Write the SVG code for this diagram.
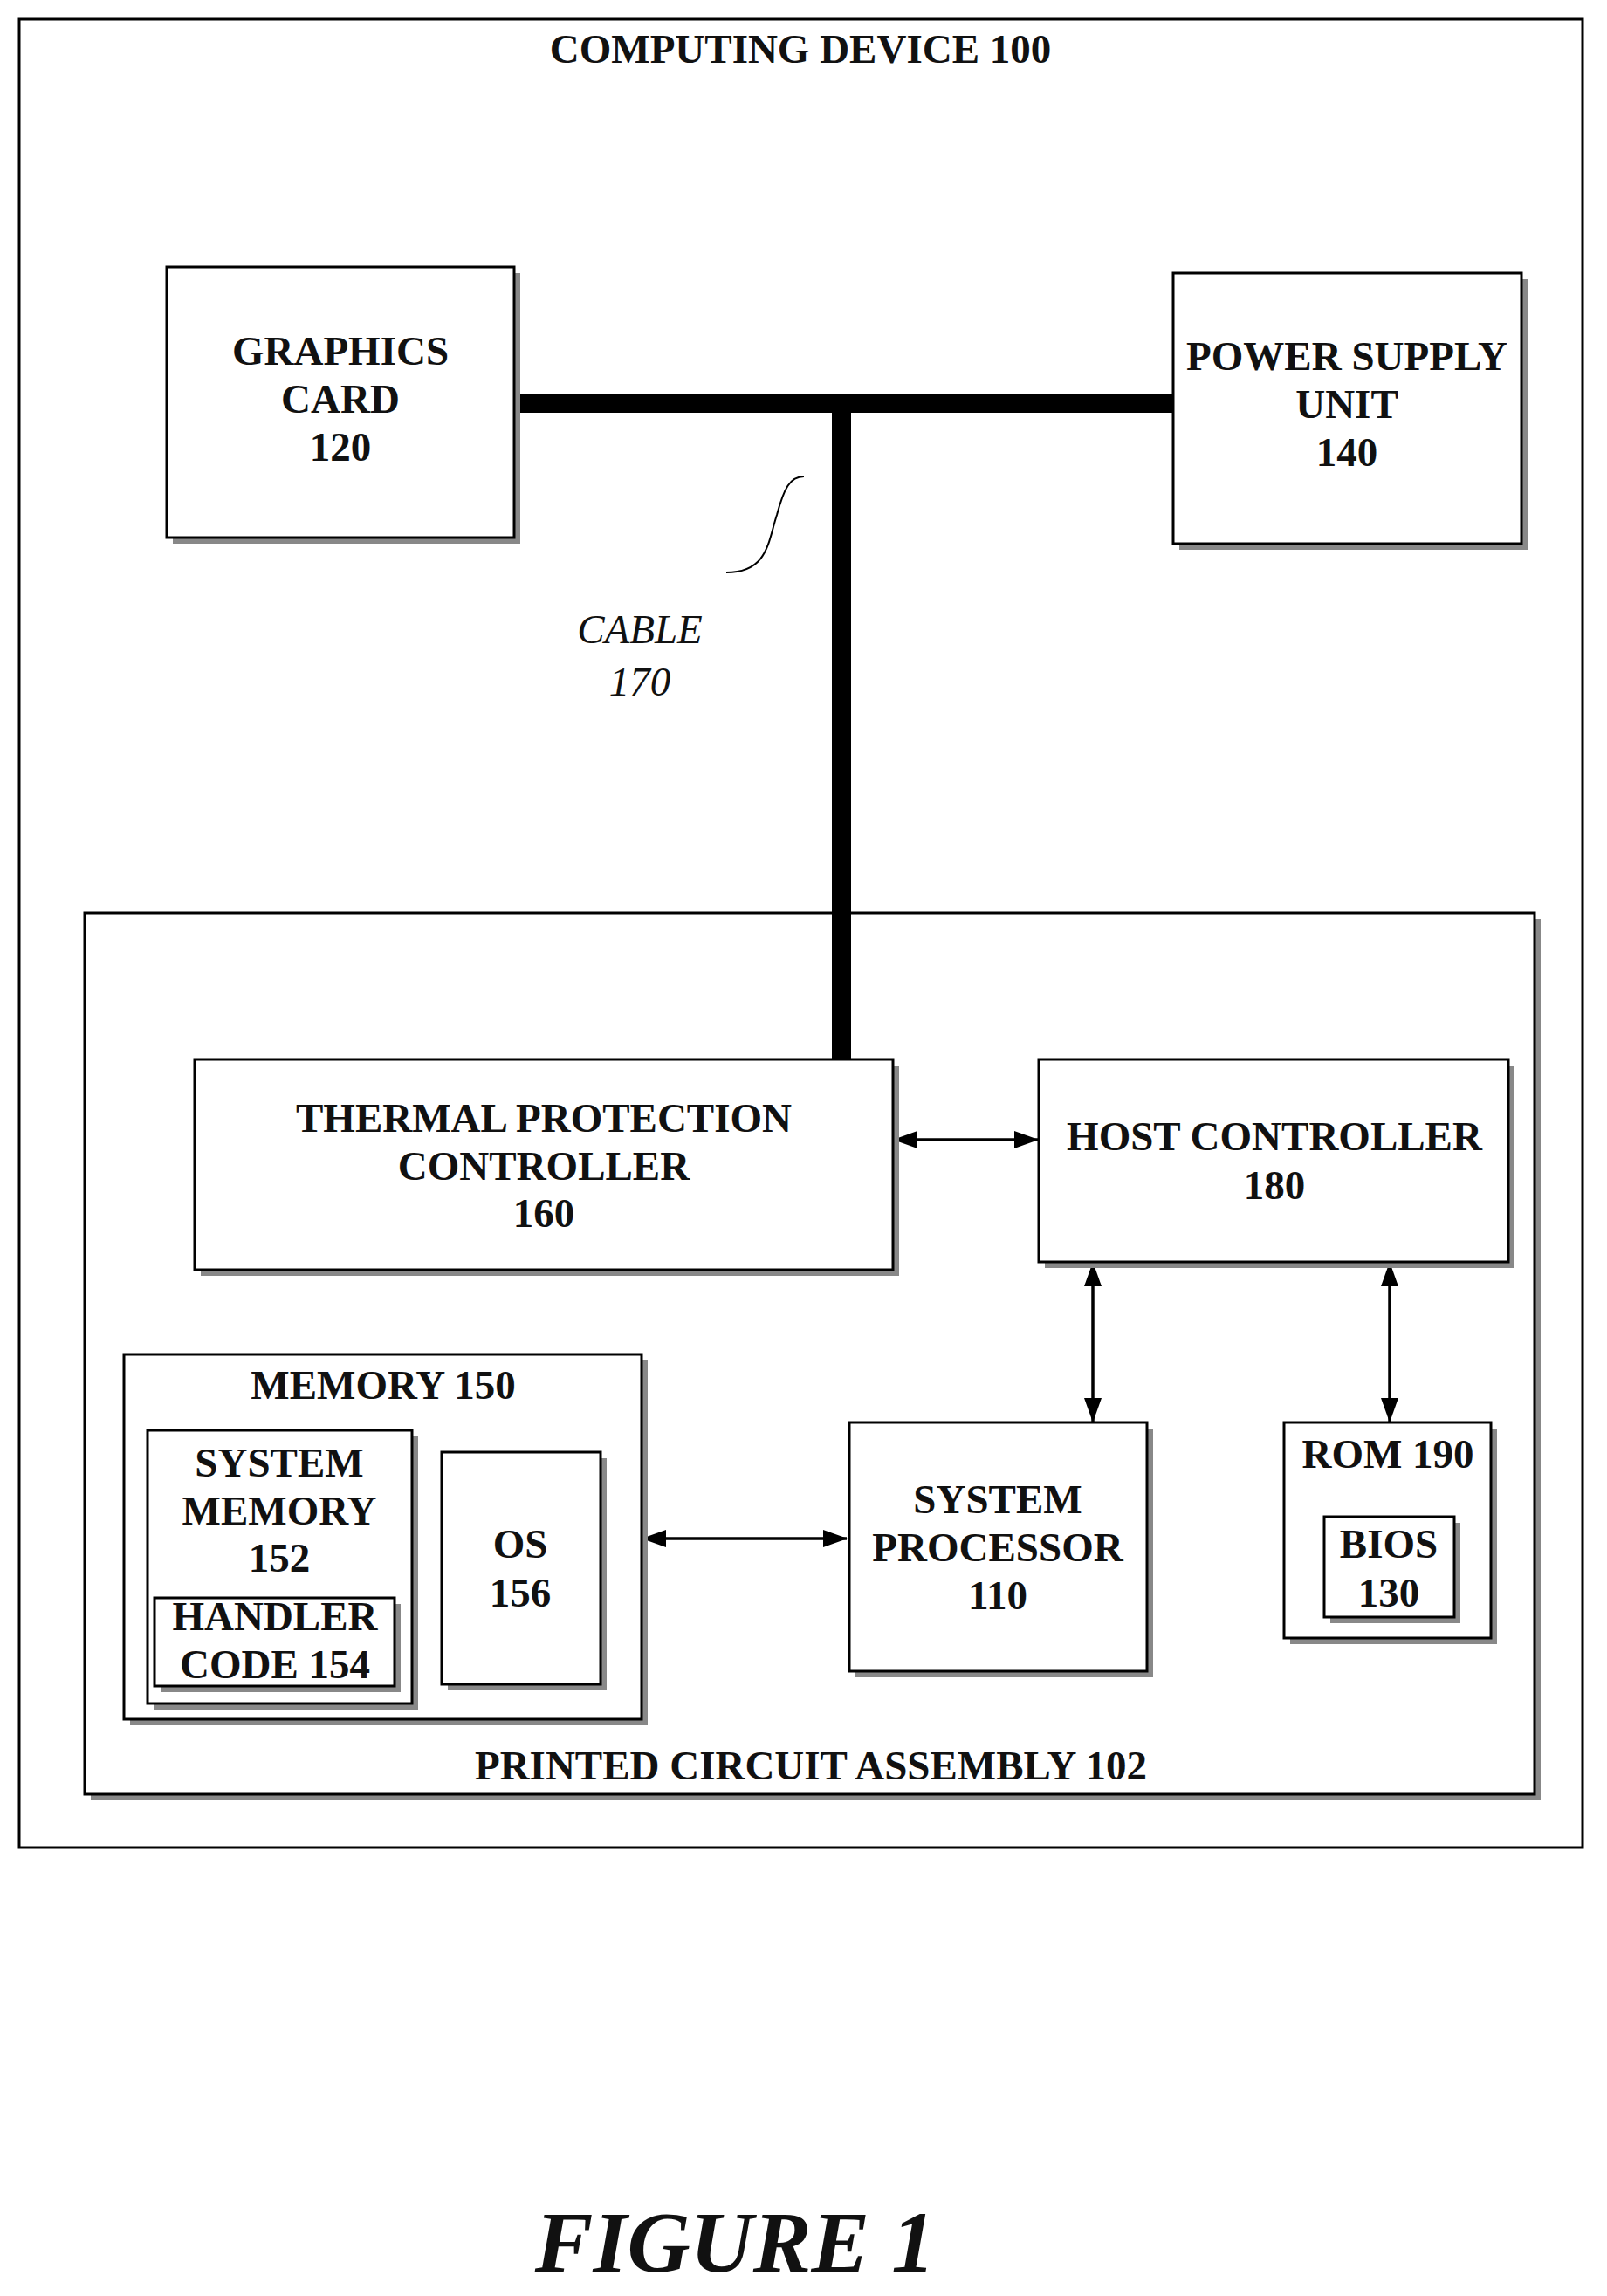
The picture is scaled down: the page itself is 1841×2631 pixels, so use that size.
<svg xmlns="http://www.w3.org/2000/svg" width="1841" height="2631" viewBox="0 0 1841 2631">
<style>
.b{fill:#fff;stroke:#000;stroke-width:3}
.s{fill:#888}
text{font-family:"Liberation Serif","DejaVu Serif",serif;font-size:47px;font-weight:bold;text-anchor:middle;fill:#111}
.i{font-style:italic;font-weight:normal}
.c{stroke:#000;stroke-width:3.5;fill:none;marker-start:url(#a);marker-end:url(#a)}
</style>
<defs>
<marker id="a" viewBox="0 0 28 20" refX="27" refY="10" markerWidth="28" markerHeight="20" markerUnits="userSpaceOnUse" orient="auto-start-reverse"><path d="M0,0 L28,10 L0,20 Z" fill="#000"/></marker>
</defs>
<rect width="1841" height="2631" fill="#fff"/>
<g id="device"><rect class="b" x="22" y="22" width="1791" height="2095"/><text x="917" y="72">COMPUTING DEVICE 100</text></g>
<g id="pca"><rect class="s" x="104" y="1053" width="1661" height="1010"/><rect class="b" x="97" y="1046" width="1661" height="1010"/><text x="929" y="2039">PRINTED CIRCUIT ASSEMBLY 102</text></g>
<g id="connectors">
<path d="M589,462 H1344 M964,462 V1214" stroke="#000" stroke-width="22" fill="none"/>
<path d="M832,656 C880,656 880,620 890,590 C898,560 905,546 921,546" stroke="#000" stroke-width="2" fill="none"/>
<line class="c" x1="1024" y1="1306" x2="1189" y2="1306"/>
<line class="c" x1="1252" y1="1447" x2="1252" y2="1629"/>
<line class="c" x1="1592" y1="1447" x2="1592" y2="1629"/>
<line class="c" x1="736" y1="1763" x2="970" y2="1763"/>
</g>
<g id="cable"><text class="i" x="733" y="737">CABLE</text><text class="i" x="733" y="797">170</text></g>
<g id="graphics"><rect class="s" x="198" y="313" width="398" height="310"/><rect class="b" x="191" y="306" width="398" height="310"/><text x="390" y="418">GRAPHICS</text><text x="390" y="473">CARD</text><text x="390" y="528">120</text></g>
<g id="psu"><rect class="s" x="1351" y="320" width="399" height="310"/><rect class="b" x="1344" y="313" width="399" height="310"/><text x="1543" y="424">POWER SUPPLY</text><text x="1543" y="479">UNIT</text><text x="1543" y="534">140</text></g>
<g id="thermal"><rect class="s" x="230" y="1221" width="800" height="241"/><rect class="b" x="223" y="1214" width="800" height="241"/><text x="623" y="1297">THERMAL PROTECTION</text><text x="623" y="1352">CONTROLLER</text><text x="623" y="1406">160</text></g>
<g id="host"><rect class="s" x="1197" y="1221" width="538" height="232"/><rect class="b" x="1190" y="1214" width="538" height="232"/><text x="1460" y="1318">HOST CONTROLLER</text><text x="1460" y="1374">180</text></g>
<g id="memory"><rect class="s" x="149" y="1559" width="593" height="418"/><rect class="b" x="142" y="1552" width="593" height="418"/><text x="439" y="1603">MEMORY 150</text></g>
<g id="sysmem"><rect class="s" x="176" y="1646" width="303" height="313"/><rect class="b" x="169" y="1639" width="303" height="313"/><text x="320" y="1692">SYSTEM</text><text x="320" y="1747">MEMORY</text><text x="320" y="1801">152</text></g>
<g id="handler"><rect class="s" x="184" y="1838" width="275" height="101"/><rect class="b" x="177" y="1831" width="275" height="101"/><text x="315" y="1868">HANDLER</text><text x="315" y="1923">CODE 154</text></g>
<g id="os"><rect class="s" x="513" y="1671" width="182" height="266"/><rect class="b" x="506" y="1664" width="182" height="266"/><text x="596" y="1785">OS</text><text x="596" y="1841">156</text></g>
<g id="sysproc"><rect class="s" x="980" y="1637" width="341" height="285"/><rect class="b" x="973" y="1630" width="341" height="285"/><text x="1143" y="1734">SYSTEM</text><text x="1143" y="1789">PROCESSOR</text><text x="1143" y="1844">110</text></g>
<g id="rom"><rect class="s" x="1478" y="1637" width="237" height="247"/><rect class="b" x="1471" y="1630" width="237" height="247"/><text x="1590" y="1682">ROM 190</text></g>
<g id="bios"><rect class="s" x="1524" y="1745" width="149" height="115"/><rect class="b" x="1517" y="1738" width="149" height="115"/><text x="1591" y="1785">BIOS</text><text x="1591" y="1841">130</text></g>
<text class="i" x="842" y="2603" style="font-size:100px;font-weight:bold">FIGURE 1</text>
</svg>
